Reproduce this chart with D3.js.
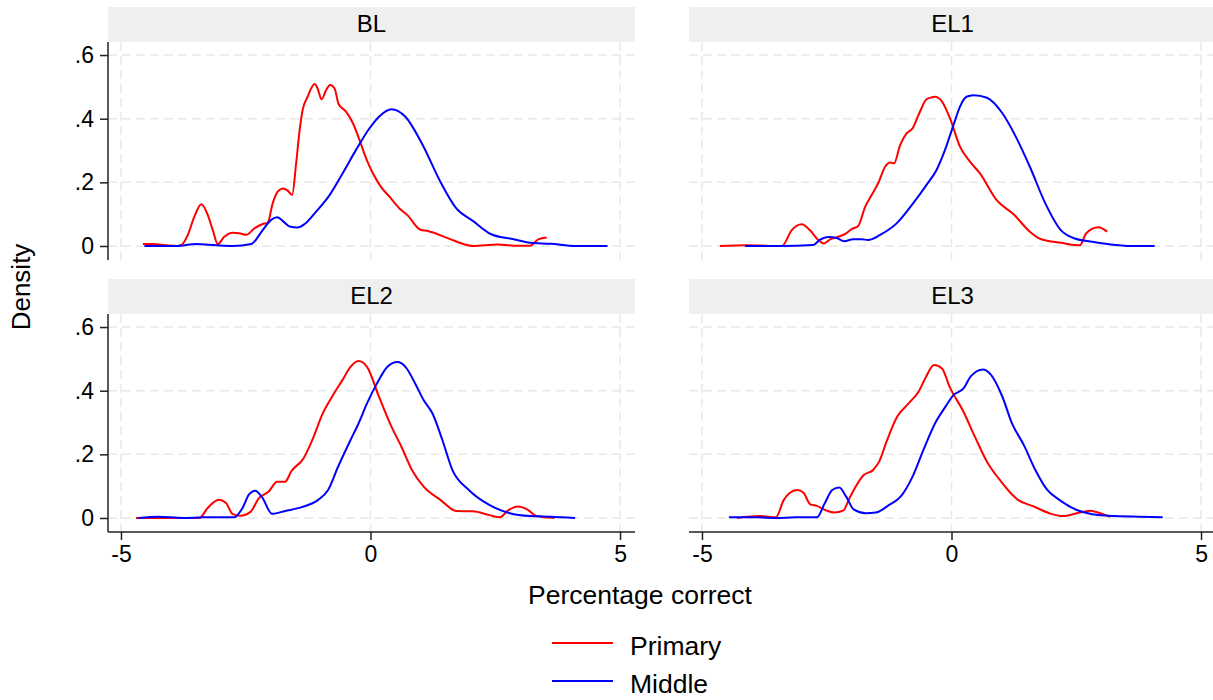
<!DOCTYPE html>
<html>
<head>
<meta charset="utf-8">
<title>Density by level</title>
<style>
body { margin: 0; background: #fff; }
svg { display: block; font-family: "Liberation Sans", Arial, Helvetica, sans-serif; }
.grid line { stroke: #e8e8e8; stroke-width: 1.5px; stroke-dasharray: 9,5; }
.curve { fill: none; stroke-width: 2px; }
</style>
</head>
<body>
<svg width="1213" height="700"></svg>
<script src="https://cdn.jsdelivr.net/npm/d3@7"></script>
<script>
// density estimates, [x, density]
var panelNames = ["BL", "EL1", "EL2", "EL3"];
var seriesNames = ["Primary", "Middle"];
var seriesColors = ["#ff0000", "#0000ff"];
var xTicks = [-5, 0, 5];
var yTicks = [0, 0.2, 0.4, 0.6];
var yTickLabels = ["0", ".2", ".4", ".6"];

var blPrimary = [[-4.56,0.006],[-4.36,0.006],[-4.1,0.002],[-3.89,0],[-3.79,0.003],[-3.66,0.035],[-3.53,0.092],[-3.39,0.131],[-3.26,0.097],[-3.16,0.05],[-3.06,0.006],[-2.93,0.029],[-2.76,0.042],[-2.63,0.04],[-2.49,0.035],[-2.32,0.056],[-2.16,0.069],[-2.06,0.073],[-1.96,0.134],[-1.86,0.171],[-1.76,0.181],[-1.66,0.174],[-1.57,0.16],[-1.49,0.26],[-1.42,0.364],[-1.36,0.427],[-1.26,0.469],[-1.12,0.509],[-1.06,0.495],[-0.98,0.461],[-0.89,0.49],[-0.81,0.506],[-0.72,0.495],[-0.64,0.446],[-0.49,0.422],[-0.35,0.385],[-0.22,0.333],[-0.09,0.276],[0.05,0.228],[0.21,0.186],[0.38,0.155],[0.58,0.118],[0.74,0.097],[0.99,0.052],[1.15,0.047],[1.56,0.024],[2.05,0.0],[2.55,0.005],[2.87,0.001],[3.2,0.001],[3.36,0.021],[3.53,0.027]];
var blMiddle = [[-4.53,0],[-3.89,0],[-3.49,0.006],[-3.09,0.002],[-2.76,0],[-2.39,0.006],[-2.16,0.05],[-1.99,0.082],[-1.87,0.09],[-1.76,0.079],[-1.62,0.061],[-1.46,0.058],[-1.32,0.069],[-1.09,0.108],[-0.82,0.16],[-0.56,0.228],[-0.29,0.302],[-0.02,0.37],[0.18,0.408],[0.42,0.43],[0.7,0.406],[1.03,0.322],[1.4,0.202],[1.72,0.118],[2.05,0.079],[2.42,0.037],[2.87,0.021],[3.2,0.01],[3.61,0.007],[4.1,0],[4.75,0]];
var el1Primary = [[-4.64,0],[-4.1,0.002],[-3.4,0],[-3.2,0.05],[-3.0,0.068],[-2.84,0.05],[-2.67,0.019],[-2.56,0.008],[-2.43,0.021],[-2.27,0.029],[-2.13,0.038],[-2.0,0.053],[-1.87,0.063],[-1.73,0.123],[-1.6,0.16],[-1.47,0.197],[-1.33,0.249],[-1.23,0.262],[-1.15,0.26],[-1.03,0.317],[-0.9,0.354],[-0.78,0.37],[-0.66,0.412],[-0.5,0.461],[-0.4,0.467],[-0.33,0.469],[-0.2,0.456],[-0.03,0.401],[0.17,0.312],[0.37,0.265],[0.57,0.228],[0.9,0.145],[1.25,0.099],[1.57,0.045],[1.8,0.021],[2.19,0.01],[2.57,0.002],[2.7,0.04],[2.94,0.059],[3.12,0.045]];
var el1Middle = [[-4.14,0],[-3.44,0],[-2.77,0.003],[-2.64,0.019],[-2.47,0.028],[-2.3,0.025],[-2.15,0.015],[-1.97,0.021],[-1.8,0.021],[-1.67,0.019],[-1.43,0.035],[-1.1,0.071],[-0.77,0.134],[-0.5,0.192],[-0.3,0.239],[-0.13,0.302],[0.04,0.38],[0.17,0.438],[0.3,0.469],[0.44,0.474],[0.71,0.466],[1.02,0.417],[1.29,0.343],[1.57,0.249],[1.88,0.134],[2.19,0.05],[2.43,0.026],[2.82,0.013],[3.13,0.006],[3.6,0],[4.07,0]];
var el2Primary = [[-4.7,0],[-3.43,0],[-3.26,0.032],[-3.04,0.057],[-2.9,0.048],[-2.76,0.012],[-2.61,0.007],[-2.4,0.02],[-2.24,0.062],[-2.04,0.083],[-1.87,0.114],[-1.71,0.114],[-1.59,0.146],[-1.34,0.188],[-1.14,0.255],[-0.97,0.324],[-0.77,0.381],[-0.56,0.434],[-0.4,0.475],[-0.24,0.493],[-0.07,0.475],[0.17,0.381],[0.42,0.287],[0.62,0.224],[0.83,0.151],[1.07,0.098],[1.4,0.057],[1.72,0.022],[2.05,0.021],[2.38,0.009],[2.59,0.002],[2.75,0.023],[2.95,0.036],[3.16,0.025],[3.32,0.006],[3.69,0]];
var el2Middle = [[-4.65,0],[-4.25,0.004],[-3.75,0],[-3.35,0.002],[-2.73,0.002],[-2.57,0.03],[-2.43,0.075],[-2.31,0.086],[-2.18,0.067],[-1.97,0.013],[-1.71,0.022],[-1.38,0.034],[-1.05,0.057],[-0.85,0.088],[-0.65,0.161],[-0.4,0.245],[-0.24,0.297],[-0.07,0.36],[0.13,0.423],[0.34,0.475],[0.54,0.49],[0.7,0.475],[0.91,0.418],[1.07,0.369],[1.24,0.329],[1.44,0.245],[1.64,0.151],[1.97,0.088],[2.38,0.041],[2.79,0.015],[3.2,0.006],[3.61,0.004],[4.1,0]];
var el3Primary = [[-4.3,0],[-3.83,0.006],[-3.52,0.002],[-3.36,0.057],[-3.25,0.078],[-3.09,0.088],[-2.97,0.08],[-2.83,0.043],[-2.7,0.038],[-2.5,0.023],[-2.35,0.017],[-2.17,0.023],[-2.03,0.067],[-1.76,0.135],[-1.57,0.151],[-1.45,0.177],[-1.29,0.245],[-1.09,0.318],[-0.86,0.36],[-0.66,0.397],[-0.51,0.444],[-0.35,0.481],[-0.19,0.47],[-0.04,0.413],[0.24,0.334],[0.47,0.255],[0.71,0.177],[0.94,0.125],[1.33,0.057],[1.65,0.036],[1.96,0.015],[2.23,0.006],[2.51,0.015],[2.78,0.023],[2.98,0.015],[3.17,0.004]];
var el3Middle = [[-4.46,0.002],[-3.91,0.002],[-3.52,0],[-3.13,0.002],[-2.7,0.002],[-2.54,0.046],[-2.39,0.088],[-2.25,0.096],[-2.11,0.067],[-1.96,0.027],[-1.72,0.015],[-1.52,0.017],[-1.25,0.041],[-1.02,0.067],[-0.78,0.13],[-0.55,0.219],[-0.31,0.303],[-0.12,0.35],[0.04,0.386],[0.24,0.407],[0.39,0.446],[0.63,0.467],[0.78,0.452],[1.02,0.381],[1.21,0.298],[1.45,0.229],[1.68,0.151],[1.92,0.088],[2.19,0.054],[2.51,0.025],[2.82,0.012],[3.29,0.006],[3.76,0.004],[4.23,0.002]];

var panelData = [[blPrimary, blMiddle], [el1Primary, el1Middle], [el2Primary, el2Middle], [el3Primary, el3Middle]];

var svg = d3.select("svg");
svg.append("rect").attr("width", 1213).attr("height", 700).attr("fill", "#fff");

var pw = 527, ph = 218, stripH = 35;
var colX = [108, 689], rowY = [42, 314];

var x = d3.scaleLinear().domain([-5.26, 5.3]).range([0, pw]);
var y = d3.scaleLinear().domain([-0.044, 0.641]).range([ph, 0]);

var line = d3.line()
    .curve(d3.curveMonotoneX)
    .x(function(d) { return x(d[0]); })
    .y(function(d) { return y(d[1]); });

panelNames.forEach(function(name, i) {
  var col = i % 2, row = Math.floor(i / 2);
  var g = svg.append("g").attr("transform", "translate(" + colX[col] + "," + rowY[row] + ")");

  // strip header
  g.append("rect")
      .attr("x", 0).attr("y", -stripH)
      .attr("width", pw).attr("height", stripH)
      .attr("fill", "#efefef");
  g.append("text")
      .attr("x", pw / 2).attr("y", -stripH / 2 + 1)
      .attr("text-anchor", "middle")
      .attr("dominant-baseline", "middle")
      .style("font-size", "24px")
      .text(name);

  // grid
  var grid = g.append("g").attr("class", "grid");
  grid.selectAll(".gy").data(yTicks).enter().append("line")
      .attr("x1", 0).attr("x2", pw)
      .attr("y1", function(d) { return y(d); })
      .attr("y2", function(d) { return y(d); });
  grid.selectAll(".gx").data(xTicks).enter().append("line")
      .attr("y1", 0).attr("y2", ph)
      .attr("x1", function(d) { return x(d); })
      .attr("x2", function(d) { return x(d); });

  if (col == 0) {
    var ya = g.append("g")
        .call(d3.axisLeft(y).tickValues(yTicks).tickSize(8).tickPadding(6)
          .tickFormat(function(d, j) { return yTickLabels[j]; }));
    ya.select(".domain").attr("stroke", "#222").attr("stroke-width", 1.5).attr("d", "M0,0V" + ph);
    ya.selectAll(".tick line").attr("stroke", "#222").attr("stroke-width", 1.5);
    ya.selectAll("text").style("font-size", "23px").attr("fill", "#000");
    ya.attr("font-family", null);
  }
  if (row == 1) {
    var xa = g.append("g")
        .attr("transform", "translate(0," + ph + ")")
        .call(d3.axisBottom(x).tickValues(xTicks).tickSize(8).tickPadding(6).tickFormat(d3.format("d")));
    xa.select(".domain").attr("stroke", "#222").attr("stroke-width", 1.5).attr("d", "M0,0H" + pw);
    xa.selectAll(".tick line").attr("stroke", "#222").attr("stroke-width", 1.5);
    xa.selectAll("text").style("font-size", "23px").attr("fill", "#000").text(function(d) { return d < 0 ? "-" + Math.abs(d) : d; });
    xa.attr("font-family", null);
  }

  panelData[i].forEach(function(pts, s) {
    g.append("path")
        .attr("class", "curve")
        .attr("d", line(pts))
        .attr("stroke", seriesColors[s]);
  });
});

// axis titles
svg.append("text")
    .attr("transform", "translate(30,287) rotate(-90)")
    .attr("text-anchor", "middle")
    .style("font-size", "26px")
    .text("Density");

svg.append("text")
    .attr("x", 640).attr("y", 604)
    .attr("text-anchor", "middle")
    .style("font-size", "26.5px")
    .text("Percentage correct");

// legend
var legend = svg.append("g");
seriesNames.forEach(function(n, s) {
  var ly = 643 + s * 38;
  legend.append("line")
      .attr("x1", 552).attr("x2", 613)
      .attr("y1", ly).attr("y2", ly)
      .attr("stroke", seriesColors[s]).attr("stroke-width", 2);
  legend.append("text")
      .attr("x", 630).attr("y", ly + 12)
      .style("font-size", "26.5px")
      .text(n);
});
</script>
</body>
</html>
